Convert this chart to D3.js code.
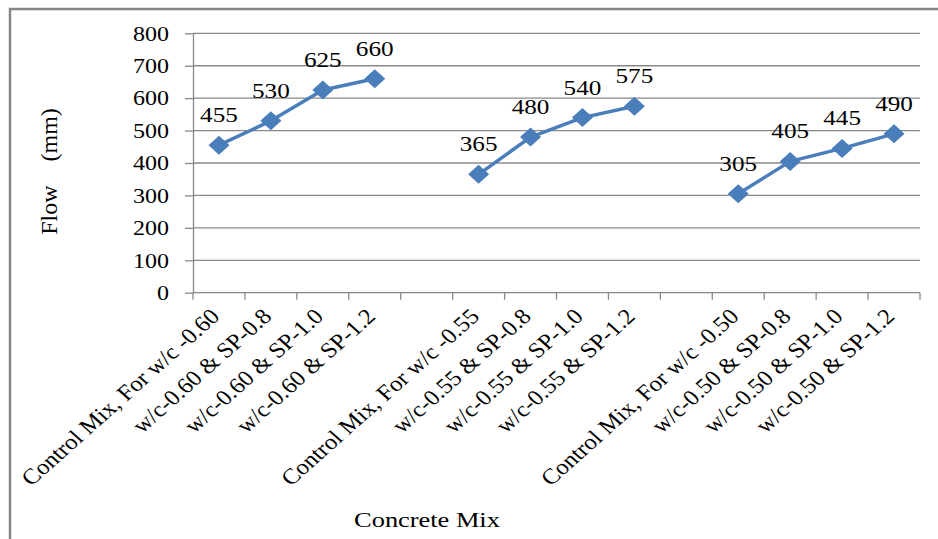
<!DOCTYPE html>
<html>
<head>
<meta charset="utf-8">
<script src="https://cdn.jsdelivr.net/npm/d3@7"></script>
<style>
  html, body { margin: 0; padding: 0; background: #fff; }
  svg { display: block; }
  text { font-family: "Liberation Serif", "Times New Roman", serif; fill: #000; }
</style>
</head>
<body>
<svg id="chart" width="938" height="539"></svg>
<script>
// ---- data ----
const categories = [
  "Control Mix, For w/c -0.60", "w/c-0.60 & SP-0.8", "w/c-0.60 & SP-1.0", "w/c-0.60 & SP-1.2",
  "",
  "Control Mix, For w/c -0.55", "w/c-0.55 & SP-0.8", "w/c-0.55 & SP-1.0", "w/c-0.55 & SP-1.2",
  "",
  "Control Mix, For w/c -0.50", "w/c-0.50 & SP-0.8", "w/c-0.50 & SP-1.0", "w/c-0.50 & SP-1.2"
];
const flowValues = [455, 530, 625, 660, null, 365, 480, 540, 575, null, 305, 405, 445, 490];
const yTicks = [0, 100, 200, 300, 400, 500, 600, 700, 800];
const xTitle = "Concrete Mix";
const yTitle = "Flow    (mm)";

// ---- layout ----
const svg = d3.select("#chart");
const plot = { left: 193, right: 920, top: 33.3, bottom: 292.7 };
const SX = 1.2;   // horizontal text stretch seen in the reference
const SXR = 1.12; // stretch for rotated category labels

const x = d3.scaleBand().domain(d3.range(categories.length)).range([plot.left, plot.right]).padding(0);
const y = d3.scaleLinear().domain([0, 800]).range([plot.bottom, plot.top]);

// frame
svg.append("rect").attr("x", 10).attr("y", 9).attr("width", 1000).attr("height", 600)
  .attr("fill", "none").attr("stroke", "#868686").attr("stroke-width", 2.5);

// gridlines
svg.append("g").selectAll("line").data(yTicks.filter(d => d > 0)).join("line")
  .attr("x1", plot.left).attr("x2", plot.right)
  .attr("y1", d => y(d)).attr("y2", d => y(d))
  .attr("stroke", "#888888").attr("stroke-width", 1.3);

// y axis
const yAxis = svg.append("g").attr("transform", `translate(${plot.left},0)`)
  .call(d3.axisLeft(y).tickValues(yTicks).tickSize(8).tickSizeOuter(0).tickPadding(0));
yAxis.attr("font-family", null).attr("font-size", null);
yAxis.select(".domain").attr("stroke", "#888888").attr("stroke-width", 1.3);
yAxis.selectAll(".tick line").attr("stroke", "#888888").attr("stroke-width", 1.3);
yAxis.selectAll(".tick text").remove();
yAxis.selectAll(".tick").append("text")
  .attr("transform", `translate(-24,0) scale(${SX},1)`)
  .attr("text-anchor", "end").attr("dy", "0.34em")
  .attr("font-size", 20)
  .text(d => d);

// x axis with ticks at band boundaries
const xg = svg.append("g");
xg.append("line").attr("x1", plot.left).attr("x2", plot.right)
  .attr("y1", plot.bottom).attr("y2", plot.bottom)
  .attr("stroke", "#888888").attr("stroke-width", 1.3);
const boundaries = d3.range(categories.length + 1).map(i => i < categories.length ? x(i) : x(i - 1) + x.bandwidth());
xg.selectAll("line.tk").data(boundaries).join("line").attr("class", "tk")
  .attr("x1", d => d).attr("x2", d => d)
  .attr("y1", plot.bottom).attr("y2", plot.bottom + 7)
  .attr("stroke", "#888888").attr("stroke-width", 1.3);
xg.selectAll("text").data(categories.map((c, i) => ({c, i})).filter(d => d.c)).join("text")
  .attr("transform", d => `translate(${x(d.i) + x.bandwidth() / 2 + 2},${plot.bottom + 25}) scale(${SXR},1) rotate(-45)`)
  .attr("text-anchor", "end")
  .attr("font-size", 22)
  .text(d => d.c);

// line
const pts = flowValues.map((v, i) => ({v, i}));
svg.append("path").datum(pts)
  .attr("fill", "none").attr("stroke", "#4a7ebb").attr("stroke-width", 3.5)
  .attr("stroke-linejoin", "round")
  .attr("d", d3.line().defined(d => d.v != null)
    .x(d => x(d.i) + x.bandwidth() / 2).y(d => y(d.v)));

// markers
const valid = pts.filter(d => d.v != null);
svg.append("g").selectAll("path").data(valid).join("path")
  .attr("transform", d => `translate(${x(d.i) + x.bandwidth() / 2},${y(d.v)})`)
  .attr("d", "M0,-9.5L10.5,0L0,9.5L-10.5,0Z")
  .attr("fill", "#4a7ebb");

// data labels
svg.append("g").selectAll("text").data(valid).join("text")
  .attr("transform", d => `translate(${x(d.i) + x.bandwidth() / 2},${y(d.v) - 23}) scale(${SX},1)`)
  .attr("text-anchor", "middle").attr("font-size", 21)
  .text(d => d.v);

// axis titles
svg.append("text")
  .attr("transform", `translate(427,527) scale(${SX},1)`)
  .attr("text-anchor", "middle").attr("font-size", 22)
  .text(xTitle);
svg.append("text")
  .attr("transform", "translate(57,171.5) rotate(-90)")
  .attr("text-anchor", "middle").attr("font-size", 24)
  .attr("xml:space", "preserve")
  .style("white-space", "pre")
  .text(yTitle);
</script>
</body>
</html>
